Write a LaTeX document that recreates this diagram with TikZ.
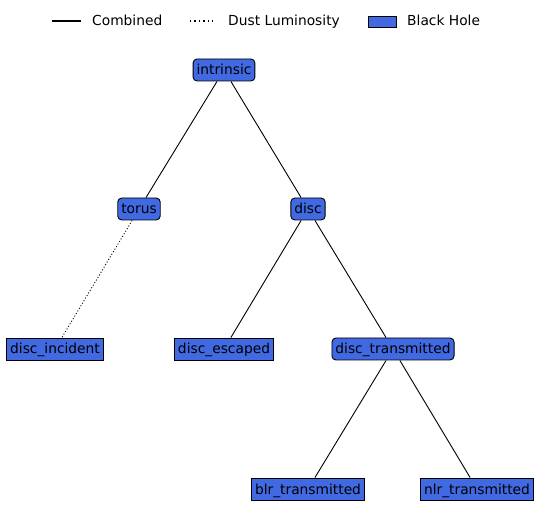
\documentclass[tikz,border=0pt]{standalone}
\usepackage{fontspec}
\setmainfont{DejaVu Sans}
\usetikzlibrary{positioning}
\definecolor{royal}{HTML}{4169E1}

\begin{document}
\begin{tikzpicture}[x=1pt,y=-1pt,
  font=\fontsize{13.8}{15}\selectfont,
  box/.style={draw=black,fill=royal,line width=0.9pt,inner xsep=3.5pt,
    inner ysep=3pt,text height=13pt,text depth=3pt},
  rbox/.style={box,rounded corners=4pt},
  leg/.style={anchor=base west,inner sep=0pt},
  edge/.style={line width=0.9pt},
  dust/.style={line width=0.9pt,dash pattern=on 1pt off 2pt}]
\useasboundingbox (0,0) rectangle (541,521);
% legend
\draw[line width=1.4pt] (52,21) -- (81,21);
\node[leg] (combined) at (92,26) {Combined};
\draw[line width=1.4pt,dash pattern=on 1.4pt off 3pt] (190,21) -- (214,21);
\node[leg] (dustlum) at (228,26) {Dust Luminosity};
\draw[fill=royal,line width=0.9pt] (368,16) rectangle (396,27);
\node[leg] (bh) at (407,26) {Black Hole};

% tree
\node[rbox] (intrinsic) at (224,70) {intrinsic};
\node[rbox] (torus) at (139,209) {torus};
\node[rbox] (disc) at (308,209) {disc};
\node[box] (incident) at (55,349) {disc\_incident};
\node[box] (escaped) at (224,349) {disc\_escaped};
\node[rbox] (transmitted) at (393,349) {disc\_transmitted};
\node[box] (blr) at (308,489) {blr\_transmitted};
\node[box] (nlr) at (477,489) {nlr\_transmitted};

\draw[edge] (intrinsic) -- (torus);
\draw[edge] (intrinsic) -- (disc);
\draw[dust] (torus) -- (incident);
\draw[edge] (disc) -- (escaped);
\draw[edge] (disc) -- (transmitted);
\draw[edge] (transmitted) -- (blr);
\draw[edge] (transmitted) -- (nlr);
\end{tikzpicture}
\end{document}
